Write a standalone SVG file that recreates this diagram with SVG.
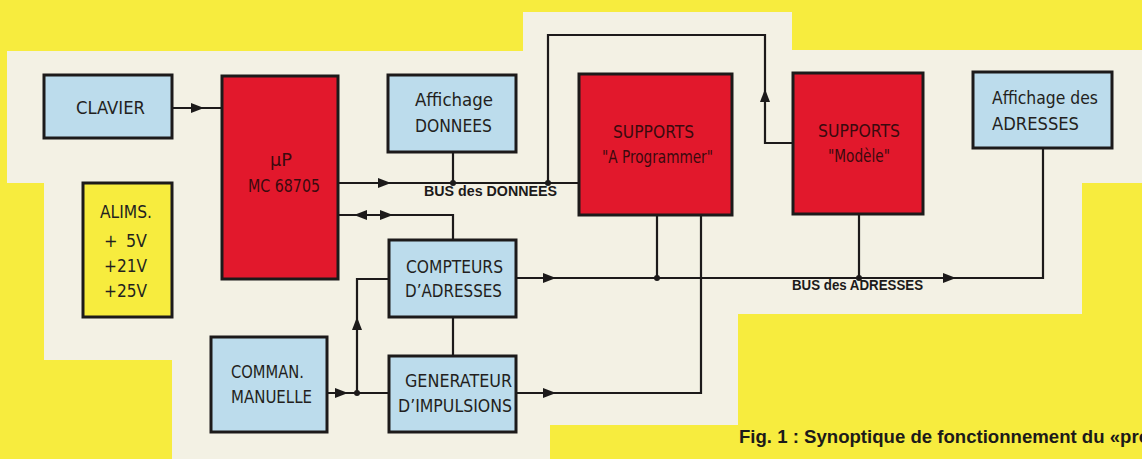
<svg xmlns="http://www.w3.org/2000/svg" width="1142" height="459" viewBox="0 0 1142 459">
<style>
.bg{fill:#f7ec3e}
.panel{fill:#f3f1e4}
.box{stroke:#1c1a1a;stroke-width:3}
.blue{fill:#bcdcec}
.red{fill:#e2182c}
.yel{fill:#f7ec3e}
.lbl{font-family:"DejaVu Sans Condensed","DejaVu Sans",sans-serif;font-size:18px;fill:#231f20}
.lblr{font-family:"DejaVu Sans Condensed","DejaVu Sans",sans-serif;font-size:18px;fill:#3a0a0e}
.bus{font-family:"Liberation Sans",Arial,sans-serif;font-weight:bold;font-size:14px;fill:#1c1a1a}
.cap{font-family:"Liberation Sans Narrow","Liberation Sans",Arial,sans-serif;font-weight:bold;font-size:18px;fill:#1c1a1a}
.ln{fill:none;stroke:#1c1a1a;stroke-width:2.2}
.ah{fill:#1c1a1a}
.dot{fill:#1c1a1a}
</style>
<defs>
<path id="ah" d="M0,0 L-13,-5 L-13,5 Z"/>
</defs>
<rect class="bg" x="0" y="0" width="1142" height="459"/>
<path class="panel" d="M7,51 H523 V12 H792 V50 H1142 V183 H1082 V314 H738 V425 H550 V459 H172 V360 H44 V183 H7 Z"/>

<g id="connectors">
<path class="ln" d="M172,108 H222"/>
<path class="ln" d="M338,183 H579"/>
<path class="ln" d="M453,152 V183"/>
<path class="ln" d="M548,183 V35 H765 V143 H793"/>
<path class="ln" d="M338,215 H453 V240"/>
<path class="ln" d="M516,278 H1043 V148"/>
<path class="ln" d="M657,215 V278"/>
<path class="ln" d="M701,215 V393 H516"/>
<path class="ln" d="M859,214 V278"/>
<path class="ln" d="M453,317 V356"/>
<path class="ln" d="M327,393 H389"/>
<path class="ln" d="M357,393 V279 H389"/>
<use href="#ah" class="ah" transform="translate(204,108)"/>
<use href="#ah" class="ah" transform="translate(391,183)"/>
<use href="#ah" class="ah" transform="translate(354,215) rotate(180)"/>
<use href="#ah" class="ah" transform="translate(393,215)"/>
<use href="#ah" class="ah" transform="translate(765,89) rotate(-90)"/>
<use href="#ah" class="ah" transform="translate(556,278)"/>
<use href="#ah" class="ah" transform="translate(956,278)"/>
<use href="#ah" class="ah" transform="translate(556,393)"/>
<use href="#ah" class="ah" transform="translate(348,393)"/>
<use href="#ah" class="ah" transform="translate(357,317) rotate(-90)"/>
<circle class="dot" cx="453" cy="183" r="3"/>
<circle class="dot" cx="548" cy="183" r="3"/>
<circle class="dot" cx="657" cy="278" r="3"/>
<circle class="dot" cx="859" cy="278" r="3"/>
<circle class="dot" cx="357" cy="393" r="3"/>
<text class="bus" x="424" y="196" textLength="133" lengthAdjust="spacingAndGlyphs">BUS des DONNEES</text>
<text class="bus" x="792" y="290" textLength="131" lengthAdjust="spacingAndGlyphs">BUS des ADRESSES</text>
</g>

<g id="clavier">
<rect class="box blue" x="44" y="75" width="128" height="63"/>
<text class="lbl" x="76" y="114" textLength="69" lengthAdjust="spacingAndGlyphs">CLAVIER</text>
</g>
<g id="up">
<rect class="box red" x="222" y="76" width="116" height="203"/>
<text class="lblr" x="270" y="166" textLength="22" lengthAdjust="spacingAndGlyphs">µP</text>
<text class="lblr" x="248" y="192" textLength="72" lengthAdjust="spacingAndGlyphs">MC 68705</text>
</g>
<g id="alims">
<rect class="box yel" x="83" y="183" width="89" height="134"/>
<text class="lbl" x="100" y="218" textLength="52" lengthAdjust="spacingAndGlyphs">ALIMS.</text>
<text class="lbl" x="104" y="247">+</text>
<text class="lbl" x="126" y="247" textLength="21" lengthAdjust="spacingAndGlyphs">5V</text>
<text class="lbl" x="104" y="272" textLength="43" lengthAdjust="spacingAndGlyphs">+21V</text>
<text class="lbl" x="104" y="297" textLength="43" lengthAdjust="spacingAndGlyphs">+25V</text>
</g>
<g id="affichage-donnees">
<rect class="box blue" x="388" y="75" width="128" height="77"/>
<text class="lbl" x="415" y="106" textLength="78" lengthAdjust="spacingAndGlyphs">Affichage</text>
<text class="lbl" x="415" y="132" textLength="77" lengthAdjust="spacingAndGlyphs">DONNEES</text>
</g>
<g id="supports-a-programmer">
<rect class="box red" x="579" y="74" width="153" height="141"/>
<text class="lblr" x="613" y="138" textLength="81" lengthAdjust="spacingAndGlyphs">SUPPORTS</text>
<text class="lblr" x="602" y="163" textLength="111" lengthAdjust="spacingAndGlyphs">"A Programmer"</text>
</g>
<g id="supports-modele">
<rect class="box red" x="793" y="73" width="130" height="141"/>
<text class="lblr" x="818" y="137" textLength="82" lengthAdjust="spacingAndGlyphs">SUPPORTS</text>
<text class="lblr" x="828" y="162" textLength="62" lengthAdjust="spacingAndGlyphs">"Modèle"</text>
</g>
<g id="affichage-adresses">
<rect class="box blue" x="973" y="72" width="139" height="76"/>
<text class="lbl" x="992" y="104" textLength="106" lengthAdjust="spacingAndGlyphs">Affichage des</text>
<text class="lbl" x="992" y="130" textLength="87" lengthAdjust="spacingAndGlyphs">ADRESSES</text>
</g>
<g id="compteurs">
<rect class="box blue" x="389" y="240" width="127" height="77"/>
<text class="lbl" x="406" y="273" textLength="97" lengthAdjust="spacingAndGlyphs">COMPTEURS</text>
<text class="lbl" x="405" y="297" textLength="97" lengthAdjust="spacingAndGlyphs">D’ADRESSES</text>
</g>
<g id="generateur">
<rect class="box blue" x="389" y="356" width="127" height="76"/>
<text class="lbl" x="405" y="387" textLength="107" lengthAdjust="spacingAndGlyphs">GENERATEUR</text>
<text class="lbl" x="398" y="412" textLength="114" lengthAdjust="spacingAndGlyphs">D’IMPULSIONS</text>
</g>
<g id="commande">
<rect class="box blue" x="211" y="337" width="116" height="95"/>
<text class="lbl" x="231" y="378" textLength="73" lengthAdjust="spacingAndGlyphs">COMMAN.</text>
<text class="lbl" x="231" y="403" textLength="81" lengthAdjust="spacingAndGlyphs">MANUELLE</text>
</g>
<text class="cap" x="739" y="443" textLength="411" lengthAdjust="spacingAndGlyphs">Fig. 1 : Synoptique de fonctionnement du «pro</text>
</svg>
